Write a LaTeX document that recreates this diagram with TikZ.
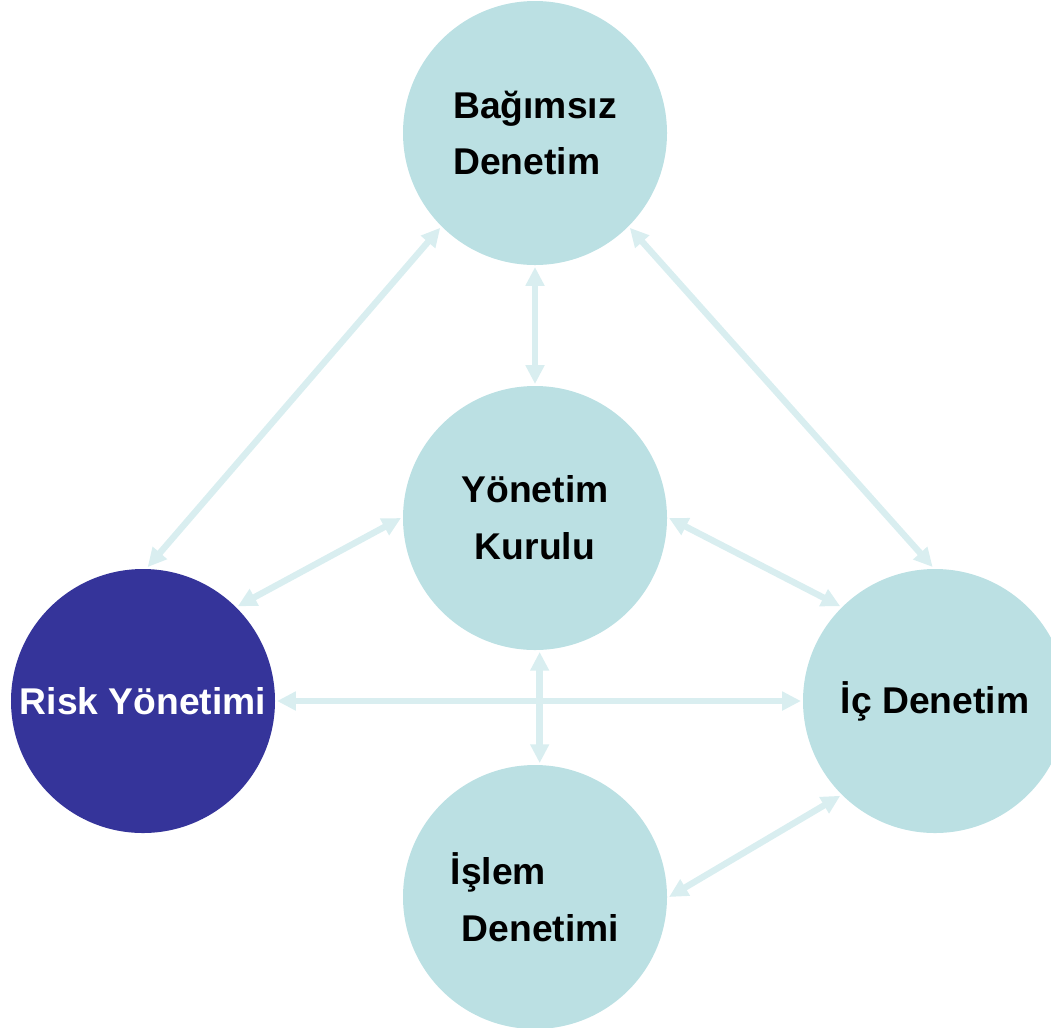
\documentclass[tikz,border=0pt]{standalone}
\usepackage{fontspec}
\setmainfont{Liberation Sans}
\usetikzlibrary{arrows.meta}
\definecolor{bubblecol}{HTML}{BBE0E3}
\definecolor{riskcol}{HTML}{35349A}
\definecolor{linkcol}{HTML}{D9EEF0}
\begin{document}
\begin{tikzpicture}
\tikzstyle{bubble} = [circle, minimum size=6.6cm, inner sep=0pt, outer sep=0.05cm, fill=bubblecol, text=black, align=left, font=\bfseries\fontsize{26.5}{40.5}\selectfont]
\tikzstyle{riskbubble} = [bubble, fill=riskcol, text=white]
\tikzstyle{link} = [line width=0.16cm, draw=linkcol, <->, >={Triangle[length=0.47cm,width=0.45cm]}]

\useasboundingbox (0,0) rectangle (26.275,-25.675);

\node [bubble] (v1) at (13.375,-3.325) {Bağımsız\\Denetim\hspace*{0.4cm}};
\node [bubble, align=center] (v2) at (13.375,-12.95) {Yönetim\\Kurulu};
\node [riskbubble] (v3) at (3.575,-17.525) {Risk Yönetimi};
\node [bubble] (v4) at (23.375,-17.525) {İç Denetim};
\node [bubble] (v5) at (13.375,-22.425) {İşlem\\\hspace*{0.275cm}Denetimi};

\draw [link] (v1.270) -- (v2.90);
\draw [link] (v1.225) -- (v3.88);
\draw [link] (v1.315) -- (v4.91);
\draw [link] (v2.180) -- (v3.45);
\draw [link] (v2.0) -- (v4.135);
\draw [link] (v3.0) -- (v4.180);
\draw [link] (v2.272) -- (v5.88);
\draw [link] (v5.0) -- (v4.225);
\end{tikzpicture}
\end{document}
